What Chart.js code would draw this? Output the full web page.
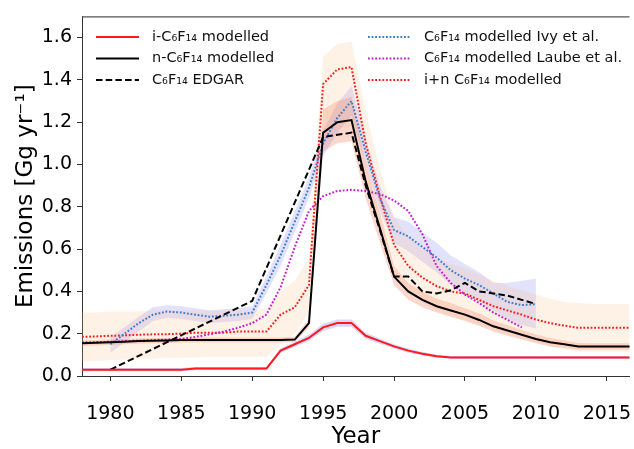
<!DOCTYPE html>
<html>
<head>
<meta charset="utf-8">
<script src="https://cdn.jsdelivr.net/npm/chart.js@4.4.1/dist/chart.umd.min.js"></script>
<style>
  html, body { margin: 0; padding: 0; background: #fff; }
  #wrap { width: 634px; height: 449px; }
</style>
</head>
<body>
<div id="wrap"><canvas id="canvas" width="634" height="449"></canvas></div>
<script>
// years for the modelled i / n / i+n series
const years = [1978, 1979, 1980, 1981, 1982, 1983, 1984, 1985, 1986, 1987,
  1988, 1989, 1990, 1991, 1992, 1993, 1994, 1995, 1996, 1997,
  1998, 1999, 2000, 2001, 2002, 2003, 2004, 2005, 2006, 2007,
  2008, 2009, 2010, 2011, 2012, 2013, 2014, 2015, 2016, 2017];

const iModelled = [0.03, 0.03, 0.03, 0.03, 0.03, 0.03, 0.03, 0.03, 0.035, 0.035,
  0.035, 0.035, 0.035, 0.035, 0.12, 0.15, 0.18, 0.23, 0.25, 0.25,
  0.19, 0.165, 0.14, 0.12, 0.105, 0.093, 0.088, 0.087, 0.087, 0.087,
  0.087, 0.087, 0.087, 0.087, 0.087, 0.087, 0.087, 0.087, 0.087, 0.087];
const iUpper = [0.038, 0.038, 0.038, 0.038, 0.038, 0.038, 0.038, 0.038, 0.043, 0.043,
  0.043, 0.043, 0.043, 0.043, 0.13, 0.162, 0.195, 0.247, 0.267, 0.267,
  0.204, 0.177, 0.15, 0.13, 0.113, 0.1, 0.095, 0.094, 0.094, 0.094,
  0.094, 0.094, 0.094, 0.094, 0.094, 0.094, 0.094, 0.094, 0.094, 0.094];
const iLower = [0.022, 0.022, 0.022, 0.022, 0.022, 0.022, 0.022, 0.022, 0.027, 0.027,
  0.027, 0.027, 0.027, 0.027, 0.11, 0.138, 0.165, 0.213, 0.233, 0.233,
  0.176, 0.153, 0.13, 0.11, 0.097, 0.086, 0.081, 0.08, 0.08, 0.08,
  0.08, 0.08, 0.08, 0.08, 0.08, 0.08, 0.08, 0.08, 0.08, 0.08];

const nModelled = [0.155, 0.157, 0.16, 0.162, 0.165, 0.167, 0.168, 0.17, 0.17, 0.17,
  0.17, 0.17, 0.17, 0.17, 0.17, 0.172, 0.25, 1.15, 1.2, 1.21,
  0.92, 0.70, 0.47, 0.40, 0.36, 0.33, 0.31, 0.29, 0.265, 0.235,
  0.215, 0.195, 0.175, 0.16, 0.15, 0.14, 0.14, 0.14, 0.14, 0.14];
const nUpper = [0.168, 0.17, 0.172, 0.175, 0.177, 0.18, 0.18, 0.182, 0.182, 0.182,
  0.182, 0.182, 0.182, 0.182, 0.182, 0.185, 0.27, 1.26, 1.30, 1.32,
  1.00, 0.77, 0.52, 0.44, 0.40, 0.365, 0.345, 0.32, 0.295, 0.262,
  0.24, 0.218, 0.196, 0.18, 0.168, 0.156, 0.155, 0.155, 0.155, 0.155];
const nLower = [0.142, 0.144, 0.148, 0.15, 0.153, 0.155, 0.156, 0.158, 0.158, 0.158,
  0.158, 0.158, 0.158, 0.158, 0.158, 0.16, 0.23, 1.06, 1.10, 1.11,
  0.84, 0.63, 0.43, 0.36, 0.325, 0.30, 0.28, 0.26, 0.238, 0.21,
  0.19, 0.172, 0.155, 0.14, 0.132, 0.124, 0.124, 0.124, 0.124, 0.124];

const inModelled = [0.185, 0.187, 0.19, 0.192, 0.195, 0.197, 0.198, 0.20, 0.205, 0.205,
  0.205, 0.21, 0.21, 0.21, 0.29, 0.325, 0.43, 1.38, 1.45, 1.46,
  1.10, 0.85, 0.62, 0.52, 0.465, 0.425, 0.40, 0.39, 0.36, 0.33,
  0.31, 0.29, 0.267, 0.25, 0.238, 0.228, 0.228, 0.228, 0.228, 0.228];
const inUpper = [0.30, 0.30, 0.305, 0.305, 0.305, 0.31, 0.31, 0.31, 0.31, 0.31,
  0.31, 0.31, 0.31, 0.32, 0.40, 0.45, 0.56, 1.51, 1.57, 1.58,
  1.25, 0.98, 0.75, 0.66, 0.60, 0.56, 0.53, 0.51, 0.48, 0.45,
  0.425, 0.405, 0.385, 0.365, 0.35, 0.345, 0.34, 0.34, 0.34, 0.34];
const inLower = [0.07, 0.072, 0.075, 0.077, 0.08, 0.082, 0.085, 0.086, 0.088, 0.09,
  0.09, 0.09, 0.09, 0.09, 0.15, 0.20, 0.30, 1.12, 1.17, 1.18,
  0.95, 0.72, 0.49, 0.41, 0.35, 0.31, 0.285, 0.265, 0.245, 0.22,
  0.20, 0.18, 0.16, 0.14, 0.125, 0.115, 0.115, 0.115, 0.115, 0.115];

// EDGAR inventory
const edgarYears = [1980, 1990, 1995, 1996, 1997, 1998, 1999, 2000, 2001, 2002,
  2003, 2004, 2005, 2006, 2007, 2008, 2009, 2010];
const edgar = [0.03, 0.355, 1.13, 1.14, 1.15, 0.90, 0.69, 0.47, 0.47, 0.40,
  0.39, 0.405, 0.44, 0.40, 0.39, 0.38, 0.36, 0.34];

// Ivy et al.
const ivyYears = [1980, 1981, 1982, 1983, 1984, 1985, 1986, 1987, 1988, 1989,
  1990, 1991, 1992, 1993, 1994, 1995, 1996, 1997, 1998, 1999,
  2000, 2001, 2002, 2003, 2004, 2005, 2006, 2007, 2008, 2009, 2010];
const ivy = [0.15, 0.20, 0.25, 0.29, 0.305, 0.30, 0.29, 0.28, 0.285, 0.29,
  0.30, 0.43, 0.57, 0.73, 0.89, 1.10, 1.22, 1.30, 1.06, 0.84,
  0.69, 0.66, 0.61, 0.56, 0.50, 0.46, 0.43, 0.39, 0.35, 0.335, 0.34];
const ivyUpper = [0.185, 0.23, 0.28, 0.325, 0.335, 0.33, 0.32, 0.31, 0.315, 0.32,
  0.33, 0.47, 0.62, 0.78, 0.94, 1.16, 1.29, 1.37, 1.12, 0.90,
  0.75, 0.73, 0.68, 0.63, 0.57, 0.53, 0.49, 0.44, 0.44, 0.45, 0.46];
const ivyLower = [0.11, 0.16, 0.21, 0.26, 0.275, 0.27, 0.26, 0.25, 0.255, 0.26,
  0.27, 0.39, 0.52, 0.68, 0.84, 1.04, 1.15, 1.23, 1.00, 0.78,
  0.63, 0.59, 0.54, 0.49, 0.43, 0.39, 0.35, 0.31, 0.27, 0.24, 0.225];

// Laube et al.
const laubeYears = [1978, 1979, 1980, 1981, 1982, 1983, 1984, 1985, 1986, 1987,
  1988, 1989, 1990, 1991, 1992, 1993, 1994, 1995, 1996, 1997,
  1998, 1999, 2000, 2001, 2002, 2003, 2004, 2005, 2006, 2007, 2008, 2009];
const laube = [0.16, 0.16, 0.162, 0.165, 0.167, 0.17, 0.172, 0.175, 0.185, 0.197,
  0.21, 0.228, 0.25, 0.29, 0.42, 0.61, 0.78, 0.85, 0.875, 0.88,
  0.875, 0.86, 0.83, 0.78, 0.67, 0.52, 0.44, 0.385, 0.345, 0.30, 0.265, 0.23];

const yTicks = { min: 0, max: 1.7, step: 0.2 };
const xTicks = { min: 1978, max: 2016.6, step: 5 };

function pts(xs, ys) {
  return xs.map((x, k) => ({ x: x, y: ys[k] }));
}

function line(label, xs, ys, color, dash) {
  return {
    label: label,
    data: pts(xs, ys),
    borderColor: color,
    borderWidth: 2,
    borderDash: dash || [],
    borderCapStyle: 'butt',
    pointRadius: 0,
    fill: false,
    tension: 0,
  };
}

function band(xs, ys, color, target) {
  return {
    label: '',
    data: pts(xs, ys),
    borderWidth: 0,
    borderColor: 'rgba(0,0,0,0)',
    backgroundColor: color,
    pointRadius: 0,
    fill: target === undefined ? false : { target: target },
    tension: 0,
  };
}

const dotted = [1.8, 1.8];

const datasets = [
  line('i-C₆F₁₄ modelled', years, iModelled, '#ff1a1a'),
  line('n-C₆F₁₄ modelled', years, nModelled, '#000000'),
  line('C₆F₁₄ EDGAR', edgarYears, edgar, '#000000', [6.5, 3.2]),
  line('C₆F₁₄ modelled Ivy et al.', ivyYears, ivy, '#3d7cc9', dotted),
  line('C₆F₁₄ modelled Laube et al.', laubeYears, laube, '#c41ccc', dotted),
  line('i+n C₆F₁₄ modelled', years, inModelled, '#ff1a1a', dotted),
  band(years, inUpper, 'rgba(250, 185, 130, 0.2)', 7),
  band(years, inLower, 'rgba(0,0,0,0)'),
  band(years, nUpper, 'rgba(240, 110, 80, 0.28)', 9),
  band(years, nLower, 'rgba(0,0,0,0)'),
  band(ivyYears, ivyUpper, 'rgba(110, 110, 240, 0.2)', 11),
  band(ivyYears, ivyLower, 'rgba(0,0,0,0)'),
  band(years, iUpper, 'rgba(110, 110, 240, 0.28)', 13),
  band(years, iLower, 'rgba(0,0,0,0)'),
];

// legend drawn inside the axes, two columns
const legendItems = [
  { ds: 0, col: 0, row: 0 },
  { ds: 1, col: 0, row: 1 },
  { ds: 2, col: 0, row: 2 },
  { ds: 3, col: 1, row: 0 },
  { ds: 4, col: 1, row: 1 },
  { ds: 5, col: 1, row: 2 },
];

const inlineLegend = {
  id: 'inlineLegend',
  afterDraw(chart) {
    const ctx = chart.ctx;
    const area = chart.chartArea;
    ctx.save();
    // top spine
    ctx.strokeStyle = '#555';
    ctx.lineWidth = 1.2;
    ctx.beginPath();
    ctx.moveTo(area.left, area.top + 0.5);
    ctx.lineTo(area.right, area.top + 0.5);
    ctx.stroke();

    ctx.font = '14.5px "DejaVu Sans"';
    ctx.textBaseline = 'middle';
    ctx.fillStyle = '#111';
    const colX = [area.left + 14, area.left + 286];
    legendItems.forEach(function (it) {
      const ds = chart.data.datasets[it.ds];
      const x0 = colX[it.col];
      const y = area.top + 20.5 + it.row * 21.5;
      ctx.strokeStyle = ds.borderColor;
      ctx.lineWidth = 2;
      ctx.setLineDash(ds.borderDash);
      ctx.beginPath();
      ctx.moveTo(x0, y);
      ctx.lineTo(x0 + 43, y);
      ctx.stroke();
      ctx.setLineDash([]);
      ctx.fillText(ds.label, x0 + 56, y);
    });
    ctx.restore();
  }
};

const config = {
  type: 'line',
  data: { datasets: datasets },
  options: {
    responsive: false,
    animation: false,
    devicePixelRatio: 1,
    layout: { padding: { top: 13, right: 0, bottom: 0, left: 0 } },
    plugins: {
      legend: { display: false },
      tooltip: { enabled: false },
      filler: { drawTime: 'beforeDatasetsDraw' },
    },
    scales: {
      x: {
        type: 'linear',
        min: xTicks.min,
        max: xTicks.max,
        afterFit: function (s) { s.height = 73; },
        ticks: {
          stepSize: xTicks.step,
          includeBounds: false,
          color: '#000',
          padding: 3,
          maxRotation: 0,
          font: { family: 'DejaVu Sans', size: 19, lineHeight: 3.2 },
          callback: function (v) { return String(v); },
        },
        grid: { drawOnChartArea: false, drawTicks: true, tickLength: 5, color: '#333' },
        border: { display: true, color: '#333', width: 1 },
        title: {
          display: true,
          text: 'Year',
          color: '#000',
          font: { family: 'DejaVu Sans', size: 23 },
          padding: { top: 0, bottom: -2 },
        },
      },
      y: {
        min: yTicks.min,
        max: yTicks.max,
        afterFit: function (s) { s.width = 82; },
        ticks: {
          stepSize: yTicks.step,
          includeBounds: false,
          color: '#000',
          padding: 5,
          font: { family: 'DejaVu Sans', size: 19 },
          callback: function (v) { return v.toFixed(1); },
        },
        grid: { drawOnChartArea: false, drawTicks: true, tickLength: 5, color: '#333' },
        border: { display: true, color: '#333', width: 1 },
        title: {
          display: true,
          text: 'Emissions [Gg yr⁻¹]',
          color: '#000',
          font: { family: 'DejaVu Sans', size: 23 },
          padding: { top: 12, bottom: 0 },
        },
      },
    },
  },
  plugins: [inlineLegend],
};

const myChart = new Chart(document.getElementById('canvas'), config);
</script>
</body>
</html>
